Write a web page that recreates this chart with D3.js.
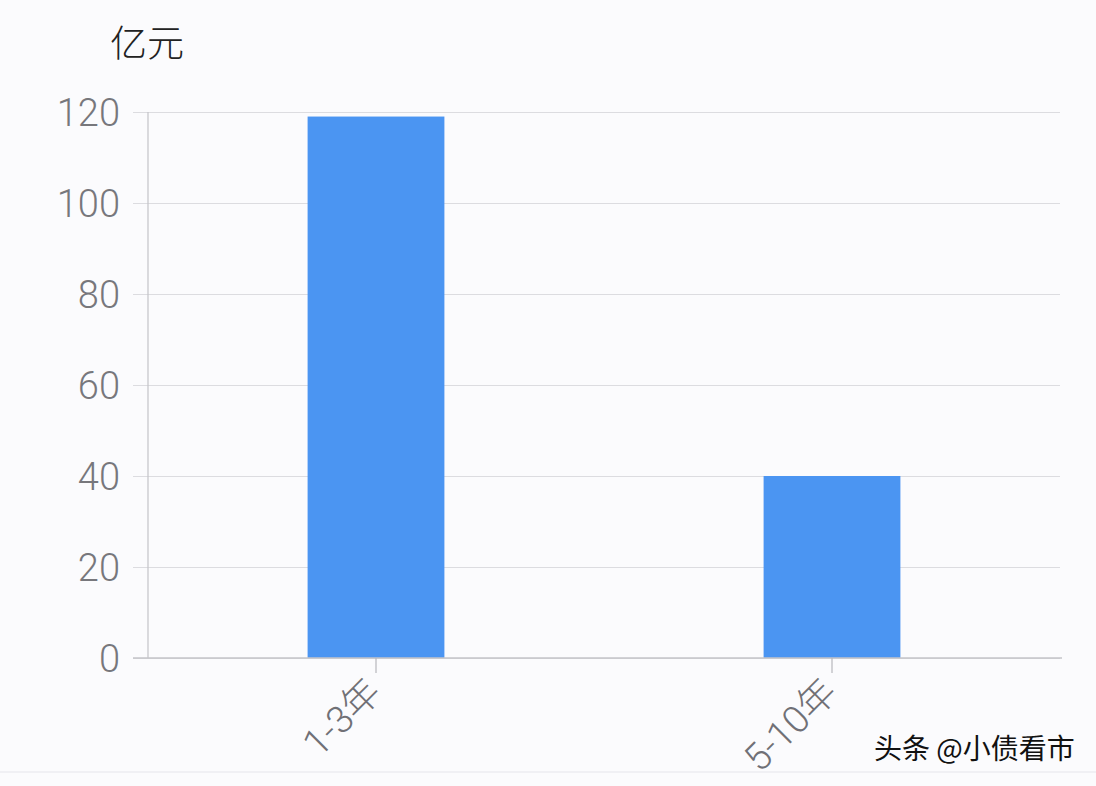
<!DOCTYPE html>
<html>
<head>
<meta charset="utf-8">
<script src="https://cdn.jsdelivr.net/npm/d3@7"></script>
<style>
  body { margin: 0; background: #fbfbfd; }
  svg { display: block; }
</style>
</head>
<body>
<svg id="chart" width="1096" height="786"></svg>
<script>
// values
var categories = ["1-3年", "5-10年"];
var amounts = [119, 40];
var yTicks = [0, 20, 40, 60, 80, 100, 120];
var unitLabel = "亿元";
var watermark = "头条 @小债看市";

var svg = d3.select("#chart"),
  margin = {top: 112, right: 36, bottom: 128, left: 148},
  width = +svg.attr("width") - margin.left - margin.right,
  height = +svg.attr("height") - margin.top - margin.bottom,
  g = svg.append("g").attr("transform", "translate(" + margin.left + "," + margin.top + ")");

var font = "Roboto, 'Noto Sans CJK SC', sans-serif";

svg.insert("rect", ":first-child")
  .attr("width", 1096).attr("height", 786)
  .attr("fill", "#fbfbfd");

var x = d3.scaleBand()
  .domain(categories)
  .range([0, width])
  .paddingInner(0.7)
  .paddingOuter(0.35);

var y = d3.scaleLinear()
  .domain([0, 120])
  .range([height, 0]);

// gridlines + y labels
var yAxis = g.append("g")
  .call(d3.axisLeft(y)
    .tickValues(yTicks)
    .tickSize(-width - 15)
    .tickSizeOuter(0)
    .tickPadding(13));
yAxis.attr("transform", "translate(-15,0)");
yAxis.select(".domain").remove();
yAxis.selectAll(".tick line")
  .attr("stroke", "#dcdce0")
  .attr("stroke-width", 1.2);
yAxis.selectAll(".tick text")
  .attr("fill", "#77777c")
  .style("font-family", font)
  .style("font-weight", 300)
  .style("font-size", "38px")
  .attr("dy", "0.36em");

// y axis line
g.append("line")
  .attr("x1", 0).attr("x2", 0)
  .attr("y1", y(120)).attr("y2", y(0))
  .attr("stroke", "#c4c4c8")
  .attr("stroke-width", 1.2);

// bars
g.selectAll("rect.bar")
  .data(amounts)
  .enter().append("rect")
  .attr("class", "bar")
  .attr("x", function(d, i) { return x(categories[i]); })
  .attr("y", function(d) { return y(d); })
  .attr("width", x.bandwidth())
  .attr("height", function(d) { return y(0) - y(d); })
  .attr("fill", "#4b95f2");

// x axis
var xAxis = g.append("g")
  .attr("transform", "translate(0," + height + ")")
  .call(d3.axisBottom(x).tickSize(15).tickSizeOuter(0).tickFormat(""));
xAxis.select(".domain")
  .attr("d", "M-15,0H" + (width + 2))
  .attr("stroke", "#c4c4c8")
  .attr("stroke-width", 1.4);
xAxis.selectAll(".tick line")
  .attr("stroke", "#b8b8bc")
  .attr("stroke-width", 1.2);

xAxis.selectAll(".tick")
  .append("text")
  .attr("class", "xlab")
  .attr("transform", "translate(-2,27) rotate(-45)")
  .attr("text-anchor", "end")
  .attr("dy", "0.35em")
  .attr("fill", "#707076")
  .style("font-family", font)
  .style("font-weight", 300)
  .style("font-size", "38px")
  .text(function(d) { return d; });

// unit label
svg.append("text")
  .attr("x", 110)
  .attr("y", 57)
  .attr("fill", "#222")
  .style("font-family", "'Noto Sans CJK SC', sans-serif")
  .style("font-weight", 300)
  .style("font-size", "37px")
  .text(unitLabel);

// bottom faint line
svg.append("line")
  .attr("x1", 0).attr("x2", 1096)
  .attr("y1", 772).attr("y2", 772)
  .attr("stroke", "#ececf0")
  .attr("stroke-width", 1.5);

// watermark
svg.append("text")
  .attr("x", 874)
  .attr("y", 759)
  .attr("fill", "#111")
  .style("font-family", "'Noto Sans CJK SC', sans-serif")
  .style("font-size", "28px")
  .text(watermark);
</script>
</body>
</html>
